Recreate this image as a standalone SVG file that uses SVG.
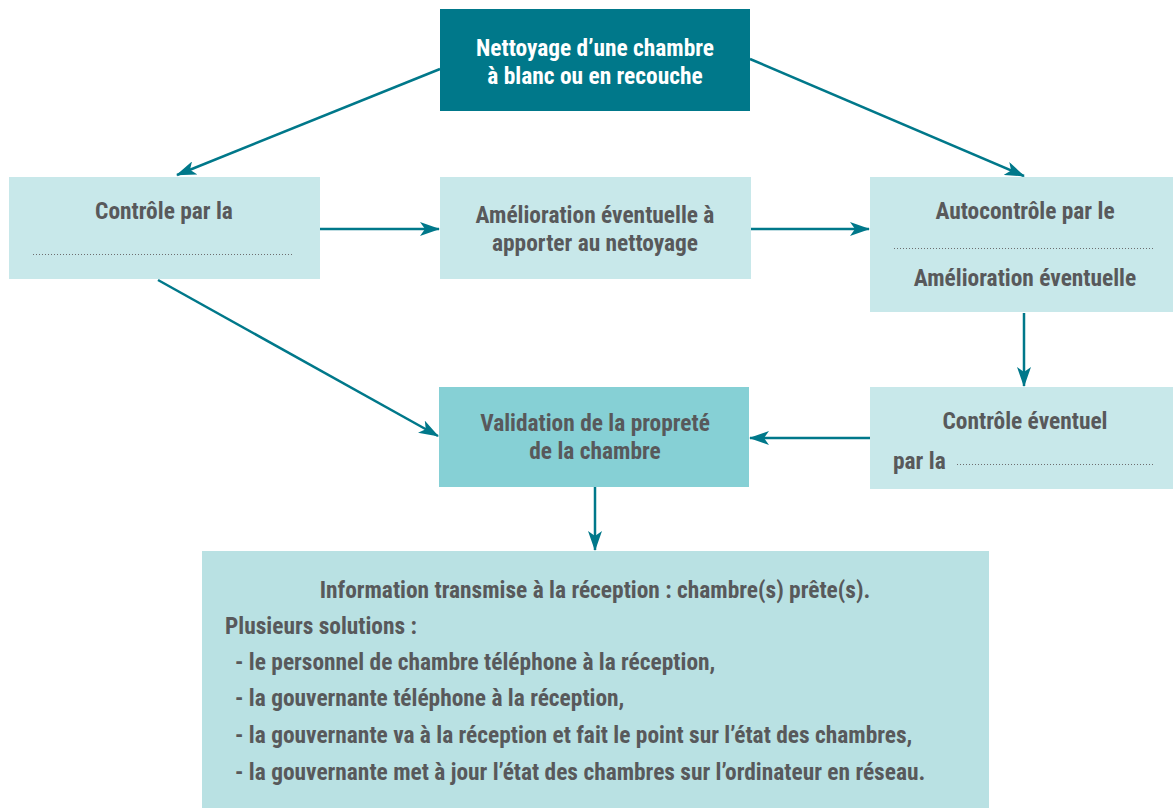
<svg xmlns="http://www.w3.org/2000/svg" width="1173" height="808" viewBox="0 0 1173 808">
<defs>
<style>
.t{font-family:"Liberation Sans Narrow","Roboto Condensed","Liberation Sans",sans-serif;font-weight:bold;font-size:23.4px;fill:#58595b}
.w{fill:#ffffff}
.c{text-anchor:middle}
.box{fill:#c8e8ea}
.dot{stroke:#6d6e70;stroke-width:1;stroke-dasharray:1 2;fill:none}
.ar{stroke:#00788a;stroke-width:2.5;fill:none;marker-end:url(#ah)}
</style>
<marker id="ah" viewBox="0 0 20 14" refX="19" refY="7" markerWidth="20" markerHeight="14" markerUnits="userSpaceOnUse" orient="auto">
<path d="M0,0 L20,7 L0,14 L5,7 z" fill="#00788a"/>
</marker>
</defs>
<rect width="1173" height="808" fill="#ffffff"/>
<g id="connectors">
<line class="ar" x1="440" y1="69" x2="177" y2="175"/>
<line class="ar" x1="750" y1="59" x2="1024" y2="176"/>
<line class="ar" x1="320" y1="229" x2="439" y2="229"/>
<line class="ar" x1="751" y1="229" x2="869" y2="229"/>
<line class="ar" x1="1024" y1="313" x2="1024" y2="386"/>
<line class="ar" x1="870" y1="438" x2="750" y2="438"/>
<line class="ar" x1="158" y1="280" x2="438" y2="436"/>
<line class="ar" x1="595" y1="487" x2="595" y2="550"/>
</g>
<g id="n-nettoyage">
<rect x="440" y="9" width="310" height="102" fill="#00788a"/>
<text class="t w c" x="595" y="56">Nettoyage d’une chambre</text>
<text class="t w c" x="595" y="84">à blanc ou en recouche</text>
</g>
<g id="n-controle">
<rect class="box" x="9" y="177" width="311" height="102"/>
<text class="t c" x="164" y="219">Contrôle par la</text>
<line class="dot" x1="33" y1="254.5" x2="293" y2="254.5"/>
</g>
<g id="n-amelioration">
<rect class="box" x="440" y="177" width="311" height="102"/>
<text class="t c" x="595" y="223">Amélioration éventuelle à</text>
<text class="t c" x="595" y="251">apporter au nettoyage</text>
</g>
<g id="n-autocontrole">
<rect class="box" x="870" y="177" width="303" height="135"/>
<text class="t c" x="1025" y="219">Autocontrôle par le</text>
<line class="dot" x1="894" y1="248.5" x2="1154" y2="248.5"/>
<text class="t c" x="1025" y="286">Amélioration éventuelle</text>
</g>
<g id="n-validation">
<rect x="439" y="387" width="310" height="100" fill="#86d0d5"/>
<text class="t c" x="595" y="431">Validation de la propreté</text>
<text class="t c" x="595" y="459">de la chambre</text>
</g>
<g id="n-controle-eventuel">
<rect class="box" x="870" y="387" width="303" height="102"/>
<text class="t c" x="1025" y="429">Contrôle éventuel</text>
<text class="t" x="893" y="469">par la</text>
<line class="dot" x1="957" y1="464.5" x2="1154" y2="464.5"/>
</g>
<g id="n-information">
<rect x="202" y="551" width="787" height="257" fill="#b9e1e3"/>
<text class="t c" x="595" y="598">Information transmise à la réception : chambre(s) prête(s).</text>
<text class="t" x="225" y="634">Plusieurs solutions :</text>
<text class="t" x="235" y="670">- le personnel de chambre téléphone à la réception,</text>
<text class="t" x="235" y="706">- la gouvernante téléphone à la réception,</text>
<text class="t" x="235" y="743">- la gouvernante va à la réception et fait le point sur l’état des chambres,</text>
<text class="t" x="235" y="780">- la gouvernante met à jour l’état des chambres sur l’ordinateur en réseau.</text>
</g>
</svg>
